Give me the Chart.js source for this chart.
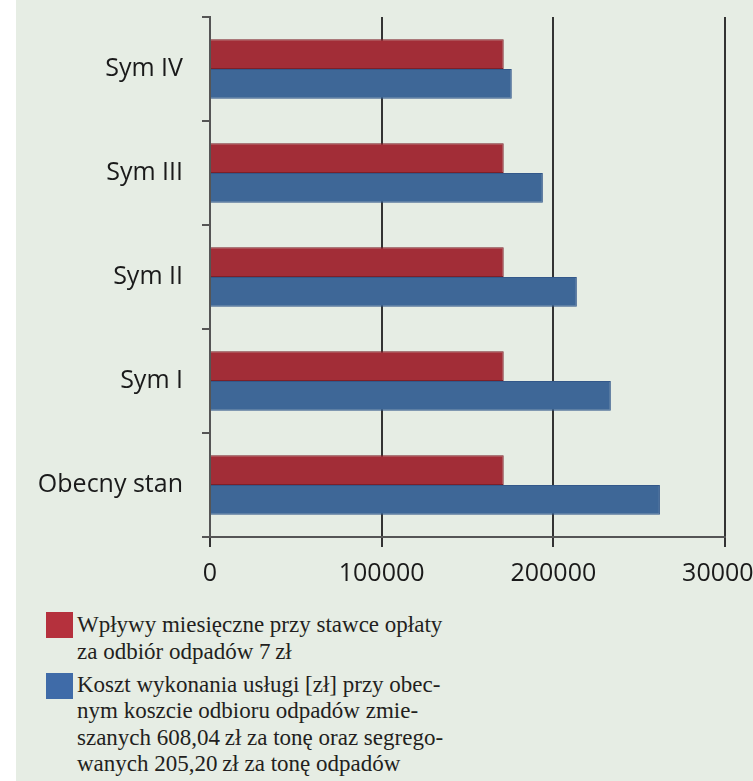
<!DOCTYPE html>
<html>
<head>
<meta charset="utf-8">
<script src="https://cdn.jsdelivr.net/npm/chart.js@4"></script>
<style>
html, body { margin: 0; padding: 0; background: #ffffff; overflow: hidden; width: 753px; height: 781px; }
#panel { position: absolute; left: 16px; top: 0; width: 737px; height: 781px; background: #e6ede4; }
#wrap { position: absolute; left: 0; top: 0; width: 820px; height: 600px; }
.leg { position: absolute; left: 77px; font-family: "Liberation Serif", serif; font-size: 23px; color: #231f20; white-space: nowrap; }
.sq { position: absolute; left: 46px; width: 27px; height: 26px; }
</style>
</head>
<body>
<div id="panel"></div>
<div id="wrap"><canvas id="chart" width="820" height="600"></canvas></div>

<div class="sq" style="top:612px;background:#b5313d"></div>
<div class="leg" id="leg1" style="top:611px;line-height:27px"></div>
<div class="sq" style="top:673px;background:#3f6ba8"></div>
<div class="leg" id="leg2" style="top:672px;line-height:26.4px"></div>

<script>
// categories, top to bottom
var labels = ['Sym IV', 'Sym III', 'Sym II', 'Sym I', 'Obecny stan'];
// monthly income at 7 zł fee
var incomeValues = [171100, 171100, 171100, 171100, 171100];
// service cost
var costValues = [175800, 193900, 213700, 233500, 262100];
var xTicks = [0, 100000, 200000, 300000];

// legend text, already broken into lines like the print
var legendIncome = ['Wpływy miesięczne przy stawce opłaty', 'za odbiór odpadów 7\u2009zł'];
var legendCost = ['Koszt wykonania usługi [zł] przy obec-', 'nym koszcie odbioru odpadów zmie-',
  'szanych 608,04\u2009zł za tonę oraz segrego-', 'wanych 205,20\u2009zł za tonę odpadów'];

document.getElementById('leg1').innerHTML = legendIncome.join('<br>');
document.getElementById('leg2').innerHTML = legendCost.join('<br>');

var tickFont = { family: '"Open Sans", sans-serif', size: 25 };

var ctx = document.getElementById('chart').getContext('2d');
window.myBar = new Chart(ctx, {
  type: 'bar',
  data: {
    labels: labels,
    datasets: [{
      label: 'Wpływy',
      data: incomeValues,
      backgroundColor: '#a22d37',
      borderColor: '#7c2029',
      borderWidth: 1
    }, {
      label: 'Koszt',
      data: costValues,
      backgroundColor: '#3e6797',
      borderColor: '#33588a',
      borderWidth: 1
    }]
  },
  options: {
    indexAxis: 'y',
    responsive: false,
    animation: false,
    layout: { padding: { top: 17, right: 95, left: 0, bottom: 0 } },
    datasets: { bar: { barPercentage: 1, categoryPercentage: 0.57 } },
    plugins: { legend: { display: false }, tooltip: { enabled: false } },
    scales: {
      x: {
        min: 0,
        max: 300000,
        afterBuildTicks: function (scale) {
          scale.ticks = xTicks.map(function (v) { return { value: v }; });
        },
        afterFit: function (scale) { scale.height = 63; },
        ticks: {
          autoSkip: false,
          maxRotation: 0,
          padding: 12,
          color: '#1a1a1a',
          font: tickFont,
          callback: function (v) { return String(v); }
        },
        grid: { color: '#333333', lineWidth: 2, tickLength: 10 },
        border: { color: '#555555', width: 2 }
      },
      y: {
        // fixed width, and no label overhang pushing the plot down
        afterFit: function (scale) {
          scale.width = 210;
          scale.paddingTop = 0;
          scale.paddingBottom = 0;
        },
        ticks: { padding: 19, color: '#1a1a1a', font: tickFont },
        grid: { offset: true, drawOnChartArea: false, tickLength: 8, color: '#555555', lineWidth: 2 },
        border: { color: '#555555', width: 2 }
      }
    }
  }
});
</script>
</body>
</html>
